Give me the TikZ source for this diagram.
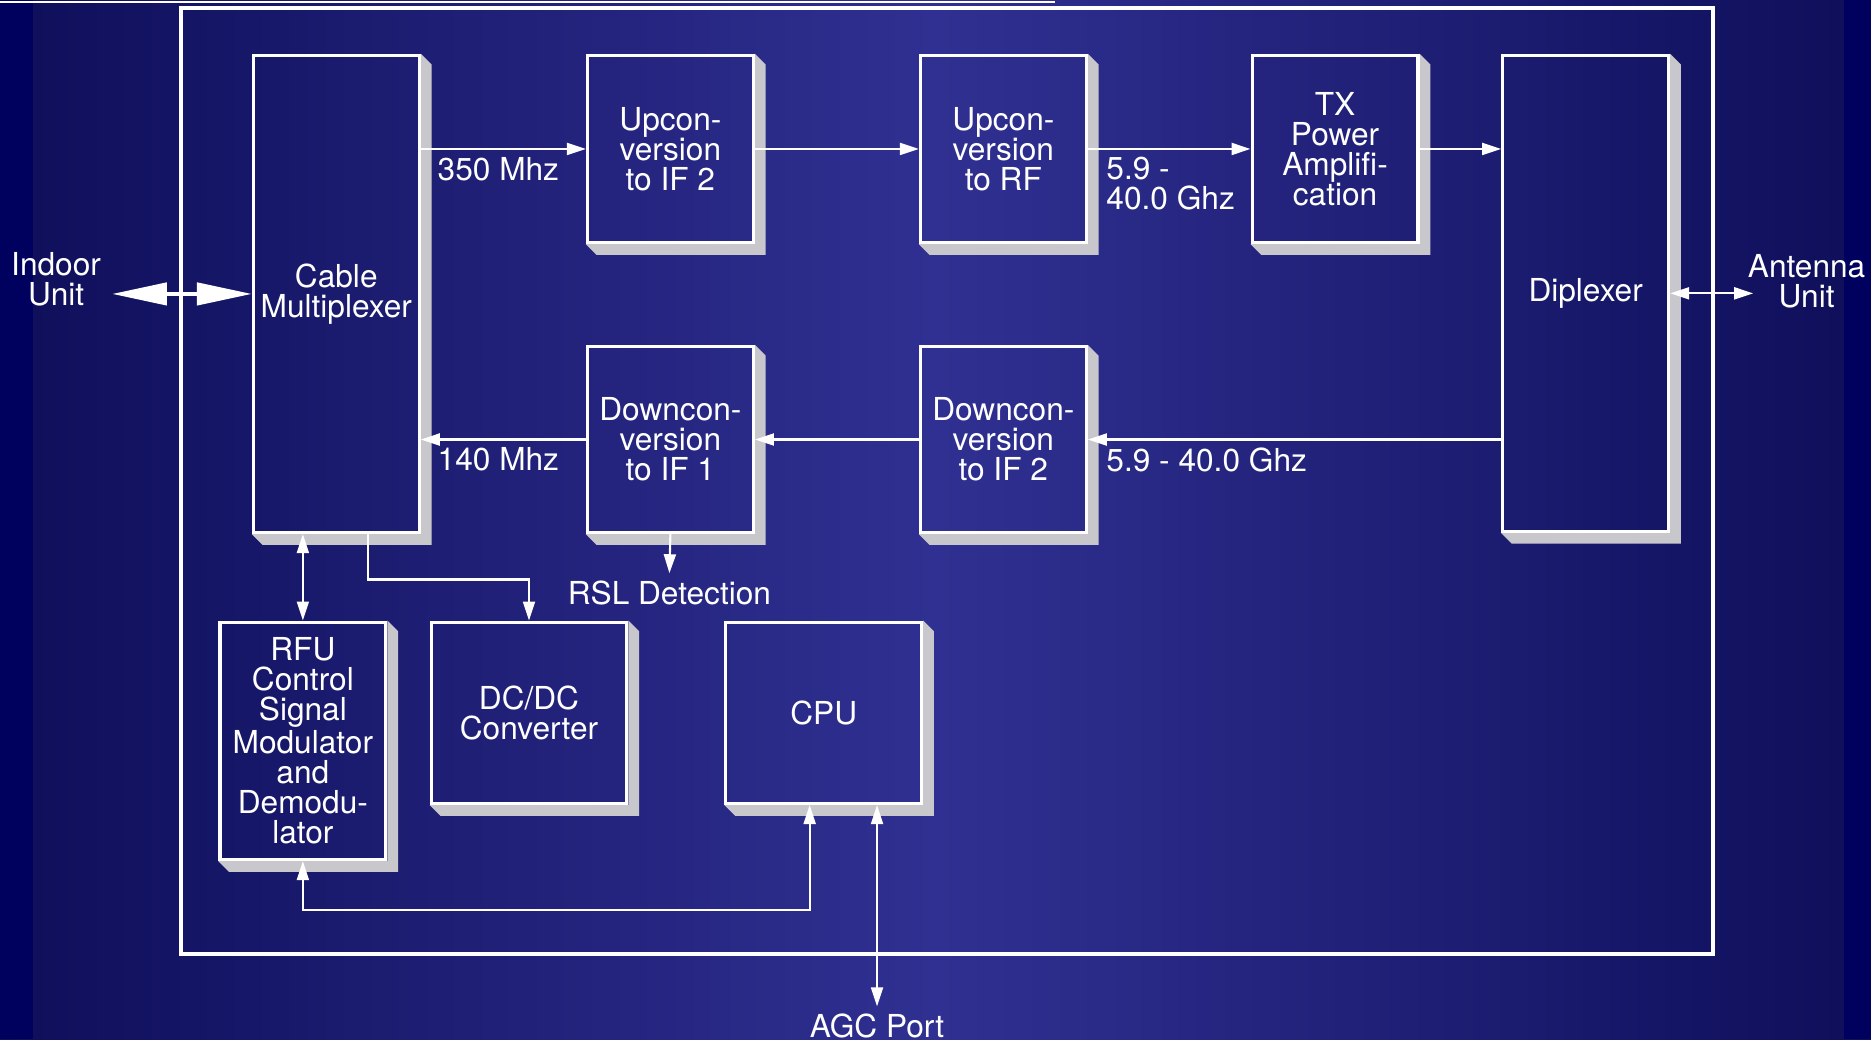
\documentclass[tikz,border=0pt]{standalone}
\usepackage{fontspec}
\setmainfont{TeX Gyre Heros}
\usetikzlibrary{arrows.meta}
\pgfdeclarelayer{back}
\pgfsetlayers{back,main}
\newlength\dpx
\setlength\dpx{0.11932mm}
\definecolor{bgedge}{RGB}{14,14,90}
\definecolor{bgdark}{RGB}{0,0,94}
\definecolor{bgmid}{RGB}{48,48,146}
\definecolor{bevel}{RGB}{200,200,204}
\tikzset{
  blk/.style={draw=white, line width=0.9pt, anchor=north west, inner sep=0pt,
    align=center, text=white, font=\fontsize{9}{8.5}\selectfont},
  lbl/.style={text=white, inner sep=2pt, font=\fontsize{9}{8.5}\selectfont},
  sig/.style={draw=white, line width=0.6pt},
  fatarrow/.style={draw=white, line width=1.15pt,
    {Triangle[length=15.6pt,width=6.3pt]}-{Triangle[length=15.6pt,width=6.3pt]}}
}
\begin{document}
\begin{tikzpicture}[x=0.11932mm,y=-0.11932mm,>={Triangle[length=5.4pt,width=3.4pt]}]
    \useasboundingbox (0,0) rectangle (1568,871);
    \begin{pgfonlayer}{back}
        \shade[left color=bgedge,right color=bgedge,middle color=bgmid] (0,0) rectangle (1568,871);
        \fill[bgdark] (0,0) rectangle (28,871);
        \fill[bgdark] (1545,0) rectangle (1568,871);
    \end{pgfonlayer}
    \draw[white,line width=0.6pt] (0,1.5) -- (884,1.5);
    \draw[white,line width=1.1pt] (151.6,6.6) rectangle (1435.3,799.2);

    \node[blk,minimum width=139*\dpx,minimum height=400*\dpx] (mux) at (211,45) {Cable\\Multiplexer};
    \node[blk,minimum width=139*\dpx,minimum height=157*\dpx] (upif) at (491,45) {Upcon-\\version\\to IF 2};
    \node[blk,minimum width=139*\dpx,minimum height=157*\dpx] (uprf) at (770,45) {Upcon-\\version\\to RF};
    \node[blk,minimum width=139*\dpx,minimum height=157*\dpx] (txpa) at (1048,45) {TX\\Power\\Amplifi-\\cation};
    \node[blk,minimum width=139*\dpx,minimum height=399*\dpx] (dipx) at (1258,45) {Diplexer};
    \node[blk,minimum width=139*\dpx,minimum height=156*\dpx] (dnif1) at (491,289) {Downcon-\\version\\to IF 1};
    \node[blk,minimum width=139*\dpx,minimum height=156*\dpx] (dnif2) at (770,289) {Downcon-\\version\\to IF 2};
    \node[blk,minimum width=139*\dpx,minimum height=199*\dpx] (rfu) at (183,520) {RFU\\Control\\Signal\\Modulator\\and\\Demodu-\\lator};
    \node[blk,minimum width=164*\dpx,minimum height=152*\dpx] (dcdc) at (360,520) {DC/DC\\Converter};
    \node[blk,minimum width=164*\dpx,minimum height=152*\dpx] (cpu) at (607,520) {CPU};

    \begin{pgfonlayer}{back}
        \foreach \b in {mux,upif,uprf,txpa,dipx,dnif1,dnif2,rfu,dcdc,cpu} {
            \fill[bevel] (\b.north east) -- ++(9,9) -- ([shift={(9,9)}]\b.south east)
                -- ([shift={(9,9)}]\b.south west) -- (\b.south west) -- (\b.south east) -- cycle;
        }
    \end{pgfonlayer}

    \node[lbl,align=center] (indoor) at (47,234) {Indoor\\Unit};
    \node[lbl,align=center] (ant) at (1514,236) {Antenna\\Unit};
    \node[lbl] (rsl) at (561,497) {RSL Detection};
    \node[lbl] (agc) at (735,860) {AGC Port};

    \draw[fatarrow] ([xshift=1pt]indoor.east |- mux.west) -- (mux.west);
    \draw[sig,<->] (dipx.east) -- ([xshift=3.7pt]ant.west |- dipx.east);

    \draw[sig,->] (mux.east |- upif.west) -- node[lbl,below,pos=0.47] {350 Mhz} (upif.west);
    \draw[sig,->] (upif.east) -- (uprf.west);
    \draw[sig,->] (uprf.east) -- node[lbl,pos=0,anchor=north west,align=left,xshift=3pt] {5.9 -\\40.0 Ghz} (txpa.west);
    \draw[sig,->] (txpa.east) -- (dipx.west |- txpa.east);
    \draw[sig,->] (dipx.west |- dnif2.east) -- node[lbl,pos=1,anchor=north west,xshift=3pt] {5.9 - 40.0 Ghz} (dnif2.east);
    \draw[sig,->] (dnif2.west) -- (dnif1.east);
    \draw[sig,->] (dnif1.west) -- node[lbl,below,pos=0.53] {140 Mhz} (mux.east |- dnif1.west);

    \draw[sig,<->] (rfu.north) -- (rfu.north |- mux.south);
    \draw[sig,->] ([xshift=9pt]mux.south) -- ++(0,38) -| (dcdc.north);
    \draw[sig,->] (dnif1.south) -- (rsl.north);
    \draw[sig,<->] ([xshift=-4pt]cpu.south) -- ++(0,88) -| (rfu.south);
    \draw[sig,<->] (agc.north |- cpu.south) -- (agc.north);
\end{tikzpicture}
\end{document}
